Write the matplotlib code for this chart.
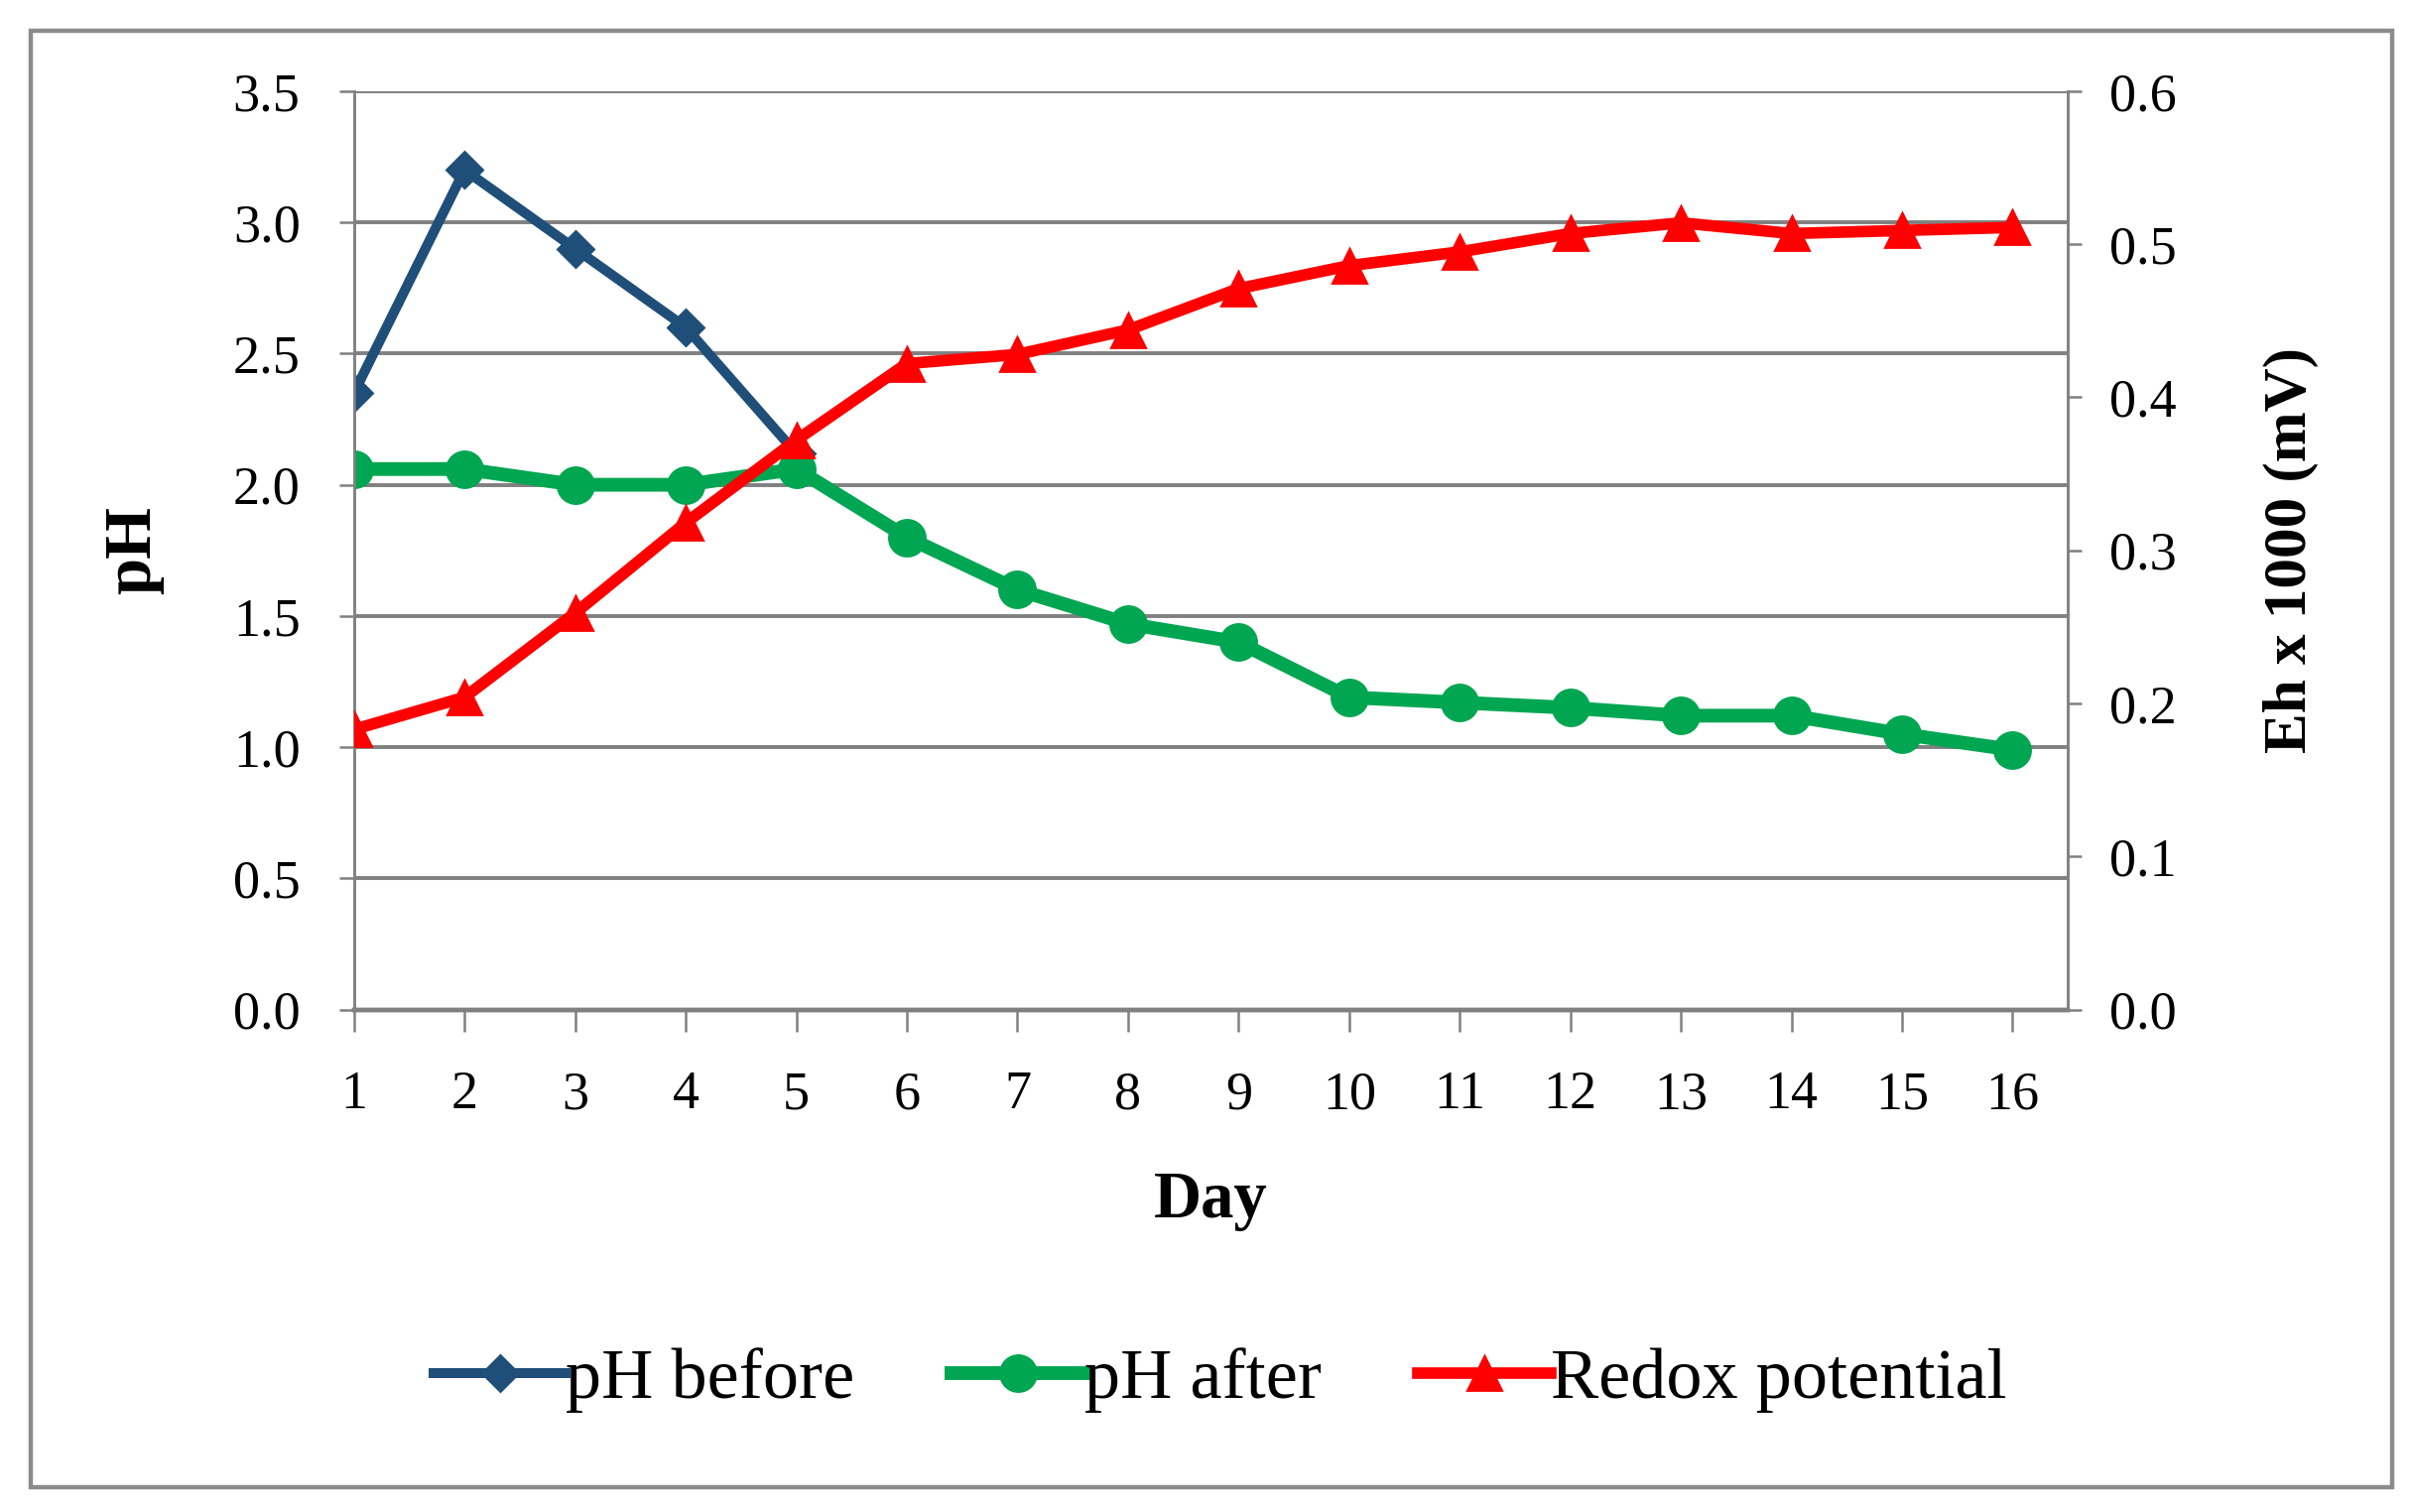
"""
pH before/after and redox potential over 16 days (twin y-axes).
"""

import matplotlib
matplotlib.use('Agg')
import matplotlib.pyplot as plt
from matplotlib.patches import Rectangle

FONT = ['Liberation Serif', 'DejaVu Serif']
TICK_FONT_SIZE = 19.5
LABEL_FONT_SIZE = 24
LEGEND_FONT_SIZE = 26

# Data
days = list(range(1, 17))
ph_before_days = [1, 2, 3, 4, 5]
ph_before = [2.35, 3.20, 2.90, 2.60, 2.12]
ph_after = [2.06, 2.06, 2.00, 2.00, 2.06, 1.80, 1.60, 1.47, 1.40, 1.19, 1.17, 1.15, 1.12, 1.12, 1.05, 0.99]
redox = [0.183, 0.204, 0.259, 0.318, 0.372, 0.422, 0.428, 0.444, 0.471, 0.486, 0.495, 0.507, 0.514, 0.507, 0.509, 0.511]

ph_ticks = [0.0, 0.5, 1.0, 1.5, 2.0, 2.5, 3.0, 3.5]
eh_ticks = [0.0, 0.1, 0.2, 0.3, 0.4, 0.5, 0.6]

color_blue = '#1f4e79'
color_green = '#00a651'
color_red = '#ff0000'
color_grid = '#808080'

plt.rcParams['font.family'] = FONT

fig = plt.figure(figsize=(12.15, 7.62), dpi=200)
ax = fig.add_axes([0.1468, 0.3323, 0.7109, 0.6074])
ax2 = ax.twinx()

# pH series on the left axis
l1, = ax.plot(ph_before_days, ph_before, color=color_blue, linewidth=3.6, marker='D', markersize=9,
              label='pH before', zorder=3)
l2, = ax.plot(days, ph_after, color=color_green, linewidth=5, marker='o', markersize=13,
              label='pH after', zorder=3)
# Redox potential on the right axis
l3, = ax2.plot(days, redox, color=color_red, linewidth=4.2, marker='^', markersize=12,
               label='Redox potential', zorder=3)

ax.set_xlim(1, 16.5)
ax.set_ylim(0, 3.5)
ax2.set_ylim(0, 0.6)
ax.set_xticks(days)
ax.set_yticks(ph_ticks)
ax.set_yticklabels([f'{t:.1f}' for t in ph_ticks])
ax2.set_yticks(eh_ticks)
ax2.set_yticklabels([f'{t:.1f}' for t in eh_ticks])

# Horizontal grid lines
ax.yaxis.grid(True, color=color_grid, linewidth=1.4)
ax.set_axisbelow(True)

# Spines
for a in (ax, ax2):
    a.spines['top'].set_visible(False)
    a.spines['left'].set_color(color_grid)
    a.spines['right'].set_color(color_grid)
    a.spines['bottom'].set_color(color_grid)
    a.spines['left'].set_linewidth(0.9)
    a.spines['right'].set_linewidth(0.9)
    a.spines['bottom'].set_linewidth(1.6)

ax.tick_params(axis='x', direction='out', length=8, width=0.9, color=color_grid,
               labelsize=TICK_FONT_SIZE, pad=14)
ax.tick_params(axis='y', direction='out', length=5.5, width=0.9, color=color_grid,
               labelsize=TICK_FONT_SIZE, pad=14)
ax2.tick_params(axis='y', direction='out', length=5, width=0.9, color=color_grid,
                labelsize=TICK_FONT_SIZE, pad=10)

# Axis labels
ax.set_xlabel('Day', fontsize=LABEL_FONT_SIZE, fontweight='bold')
ax.xaxis.set_label_coords(0.5, -0.175)
ax.set_ylabel('pH', fontsize=LABEL_FONT_SIZE, fontweight='bold')
ax.yaxis.set_label_coords(-0.111, 0.5)
ax2.set_ylabel('Eh x 1000 (mV)', fontsize=22, fontweight='bold')
ax2.yaxis.set_label_coords(1.114, 0.5)

# Legend below the plot
fig.legend(handles=[l1, l2, l3], loc='center', bbox_to_anchor=(0.506, 0.087), ncol=3,
           frameon=False, fontsize=LEGEND_FONT_SIZE, handlelength=1.85, handletextpad=0.0,
           columnspacing=1.35)

# Outer border
fig.patches.append(Rectangle((0.0128, 0.0164), 0.9795, 0.9632, transform=fig.transFigure,
                             fill=False, edgecolor='#8c8c8c', linewidth=1.6))

fig.savefig('out.png', dpi=200)
